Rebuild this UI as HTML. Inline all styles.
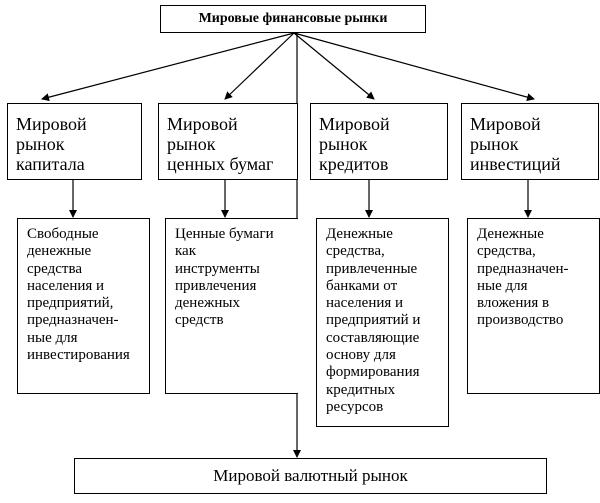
<!DOCTYPE html>
<html><head><meta charset="utf-8"><style>
body{margin:0;width:600px;height:503px;background:#fff;position:relative;overflow:hidden;font-family:"Liberation Serif",serif;color:#000}
.b{position:absolute;border:1.5px solid #000;box-sizing:border-box;background:#fff}
.l2{font-size:18px;line-height:20px;padding:10px 0 0 8px}
.l3{font-size:15px;line-height:17.3px;padding:7px 0 0 9px}
</style></head><body>
<svg width="600" height="503" style="position:absolute;left:0;top:0">
<defs><marker id="a" markerWidth="8" markerHeight="8" refX="7" refY="4" orient="auto" markerUnits="userSpaceOnUse"><path d="M0,0 L8,4 L0,8 z" fill="#000"/></marker></defs>
<g stroke="#000" stroke-width="1.2" fill="none">
<line x1="294" y1="33" x2="42" y2="99" marker-end="url(#a)"/>
<line x1="294" y1="33" x2="225" y2="99" marker-end="url(#a)"/>
<line x1="294" y1="33" x2="374" y2="99" marker-end="url(#a)"/>
<line x1="294" y1="33" x2="534" y2="99" marker-end="url(#a)"/>
<line x1="297" y1="33" x2="297" y2="457" marker-end="url(#a)"/>
<line x1="73" y1="179" x2="73" y2="217" marker-end="url(#a)"/>
<line x1="225" y1="179" x2="225" y2="217" marker-end="url(#a)"/>
<line x1="369" y1="179" x2="369" y2="217" marker-end="url(#a)"/>
<line x1="528" y1="179" x2="528" y2="217" marker-end="url(#a)"/>
</g></svg>
<div class="b" style="left:160px;top:5px;width:266px;height:28px;font-weight:bold;font-size:14px;text-align:center;line-height:26px">Мировые финансовые рынки</div>
<div class="b l2" style="left:7px;top:103px;width:135px;height:77px">Мировой<br>рынок<br>капитала</div>
<div class="b l2" style="left:158px;top:103px;width:140px;height:77px">Мировой<br>рынок<br>ценных бумаг</div>
<div class="b l2" style="left:310px;top:103px;width:138px;height:77px">Мировой<br>рынок<br>кредитов</div>
<div class="b l2" style="left:461px;top:103px;width:138px;height:77px">Мировой<br>рынок<br>инвестиций</div>
<div class="b l3" style="left:17px;top:218px;width:133px;height:176px">Свободные<br>денежные<br>средства<br>населения и<br>предприятий,<br>предназначен-<br>ные для<br>инвестирования</div>
<div class="b l3" style="left:165px;top:218px;width:133px;height:176px;border-right:none">Ценные бумаги<br>как<br>инструменты<br>привлечения<br>денежных<br>средств</div>
<div class="b l3" style="left:316px;top:218px;width:133px;height:209px">Денежные<br>средства,<br>привлеченные<br>банками от<br>населения и<br>предприятий и<br>составляющие<br>основу для<br>формирования<br>кредитных<br>ресурсов</div>
<div class="b l3" style="left:467px;top:218px;width:133px;height:176px">Денежные<br>средства,<br>предназначен-<br>ные для<br>вложения в<br>производство</div>
<div class="b" style="left:74px;top:458px;width:473px;height:36px;font-size:17px;text-align:center;line-height:34px">Мировой валютный рынок</div>
</body></html>
